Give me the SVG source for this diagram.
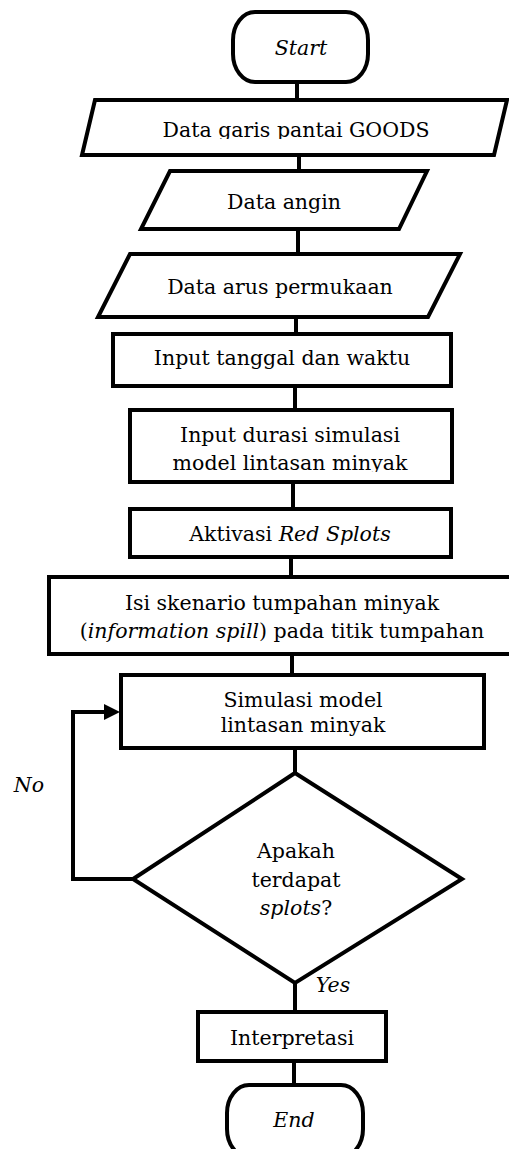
<svg xmlns="http://www.w3.org/2000/svg" width="509" height="1149" viewBox="0 0 509 1149">
<style>
.s{fill:#fff;stroke:#000;stroke-width:4;stroke-linejoin:miter}
.c{fill:none;stroke:#000;stroke-width:4}
text{font-family:"DejaVu Serif","Liberation Serif",serif;font-size:20.5px;fill:#000;text-anchor:middle}
.i{font-style:italic}
</style>
<defs>
<clipPath id="cp1"><rect x="0" y="0" width="509" height="139"/></clipPath>
<clipPath id="cp2"><rect x="0" y="0" width="509" height="472"/></clipPath>
</defs>
<rect width="509" height="1149" fill="#fff"/>
<g id="connectors">
<line class="c" x1="297" y1="82" x2="297" y2="100"/>
<line class="c" x1="299" y1="155" x2="299" y2="171"/>
<line class="c" x1="298" y1="229" x2="298" y2="254"/>
<line class="c" x1="296" y1="317" x2="296" y2="334"/>
<line class="c" x1="295" y1="386" x2="295" y2="410"/>
<line class="c" x1="293" y1="482" x2="293" y2="509"/>
<line class="c" x1="291" y1="557" x2="291" y2="577"/>
<line class="c" x1="292" y1="654" x2="292" y2="675"/>
<line class="c" x1="295" y1="748" x2="295" y2="773"/>
<line class="c" x1="295" y1="983" x2="295" y2="1012"/>
<line class="c" x1="294" y1="1061" x2="294" y2="1085"/>
<polyline class="c" points="133,879 73,879 73,712 106,712"/>
<path d="M104,704 L120,712 L104,720 Z" fill="#000"/>
</g>
<g id="start">
<rect class="s" x="233" y="12" width="135" height="70" rx="22" ry="28"/>
<text class="i" x="301" y="55">Start</text>
</g>
<g id="data-garis">
<polygon class="s" points="95,100 507,100 494,155 82,155"/>
<text x="296" y="137" clip-path="url(#cp1)">Data garis pantai GOODS</text>
</g>
<g id="data-angin">
<polygon class="s" points="170,171 427,171 399,229 141,229"/>
<text x="284" y="209">Data angin</text>
</g>
<g id="data-arus">
<polygon class="s" points="130,254 460,254 428,317 98,317"/>
<text x="280" y="294">Data arus permukaan</text>
</g>
<g id="input-tanggal">
<rect class="s" x="113" y="334" width="338" height="52"/>
<text x="282" y="365">Input tanggal dan waktu</text>
</g>
<g id="input-durasi">
<rect class="s" x="130" y="410" width="322" height="72"/>
<text x="290" y="442">Input durasi simulasi</text>
<text x="290" y="470" clip-path="url(#cp2)">model lintasan minyak</text>
</g>
<g id="aktivasi">
<rect class="s" x="130" y="509" width="321" height="48"/>
<text x="290" y="541">Aktivasi <tspan class="i">Red Splots</tspan></text>
</g>
<g id="isi-skenario">
<rect class="s" x="49" y="577" width="470" height="77"/>
<text x="282" y="610">Isi skenario tumpahan minyak</text>
<text x="282" y="638">(<tspan class="i">information spill</tspan>) pada titik tumpahan</text>
</g>
<g id="simulasi">
<rect class="s" x="121" y="675" width="363" height="73"/>
<text x="303" y="707">Simulasi model</text>
<text x="303" y="732">lintasan minyak</text>
</g>
<g id="decision">
<polygon class="s" points="295,773 462,879 295,983 133,879"/>
<text x="296" y="858">Apakah</text>
<text x="296" y="887">terdapat</text>
<text x="296" y="915"><tspan class="i">splots</tspan>?</text>
</g>
<g id="labels">
<text class="i" x="29" y="792">No</text>
<text class="i" x="333" y="992">Yes</text>
</g>
<g id="interpretasi">
<rect class="s" x="198" y="1012" width="188" height="49"/>
<text x="292" y="1045">Interpretasi</text>
</g>
<g id="end">
<rect class="s" x="227" y="1085" width="136" height="72" rx="22" ry="28"/>
<text class="i" x="294" y="1127">End</text>
</g>
</svg>
